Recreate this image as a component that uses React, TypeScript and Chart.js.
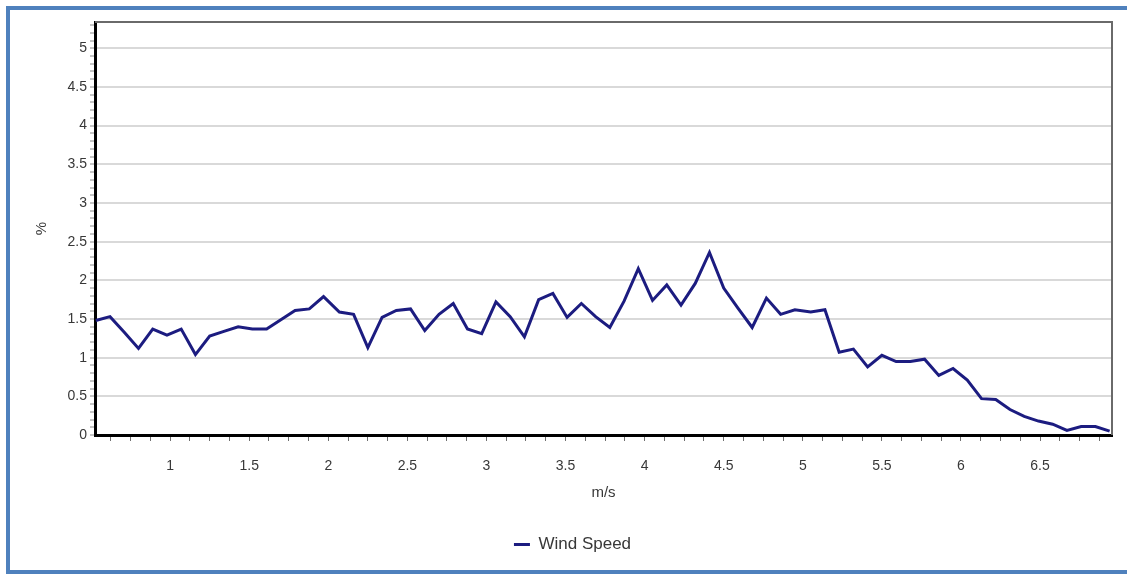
import React, { useEffect, useRef } from 'react';
import { Chart, registerables } from 'chart.js';

Chart.register(...registerables);

// Wind speed bins (m/s)
const WIND_SPEED = [
  0.53, 0.62, 0.71, 0.80, 0.89, 0.98, 1.07, 1.16, 1.25, 1.34,
  1.43, 1.52, 1.61, 1.70, 1.79, 1.88, 1.97, 2.07, 2.16, 2.25,
  2.34, 2.43, 2.52, 2.61, 2.70, 2.79, 2.88, 2.97, 3.06, 3.15,
  3.24, 3.33, 3.42, 3.51, 3.60, 3.69, 3.78, 3.87, 3.96, 4.05,
  4.14, 4.23, 4.32, 4.41, 4.50, 4.59, 4.68, 4.77, 4.86, 4.95,
  5.05, 5.14, 5.23, 5.32, 5.41, 5.50, 5.59, 5.68, 5.77, 5.86,
  5.95, 6.04, 6.13, 6.22, 6.31, 6.40, 6.49, 6.58, 6.67, 6.76,
  6.85, 6.94,
];

// Frequency (%)
const PERCENT = [
  1.48, 1.53, 1.33, 1.12, 1.37, 1.29, 1.37, 1.04, 1.28, 1.34,
  1.40, 1.37, 1.37, 1.49, 1.61, 1.63, 1.79, 1.59, 1.56, 1.13,
  1.52, 1.61, 1.63, 1.35, 1.56, 1.70, 1.37, 1.31, 1.72, 1.53,
  1.27, 1.75, 1.83, 1.52, 1.70, 1.53, 1.39, 1.73, 2.15, 1.74,
  1.94, 1.68, 1.96, 2.36, 1.90, 1.64, 1.39, 1.77, 1.56, 1.62,
  1.59, 1.62, 1.07, 1.11, 0.88, 1.03, 0.95, 0.95, 0.98, 0.77,
  0.86, 0.71, 0.47, 0.46, 0.33, 0.24, 0.18, 0.14, 0.06, 0.11,
  0.11, 0.05,
];

const X_MAJOR_TICKS = [1, 1.5, 2, 2.5, 3, 3.5, 4, 4.5, 5, 5.5, 6, 6.5];
const X_TICK_LABELS = ['1', '1.5', '2', '2.5', '3', '3.5', '4', '4.5', '5', '5.5', '6', '6.5'];
const Y_MAJOR_TICKS = [0, 0.5, 1, 1.5, 2, 2.5, 3, 3.5, 4, 4.5, 5];
const Y_TICK_LABELS = ['0', '0.5', '1', '1.5', '2', '2.5', '3', '3.5', '4', '4.5', '5'];

const SERIES_LABEL = 'Wind Speed';
const X_TITLE = 'm/s';
const Y_TITLE = '%';

const FONT = '"Liberation Sans", Arial, sans-serif';
const TEXT_COLOR = '#383838';

const majorIndex = (v: number, list: number[]) =>
  list.findIndex((t) => Math.abs(t - v) < 1e-6);

export default function App() {
  const ref = useRef<HTMLCanvasElement>(null);

  useEffect(() => {
    const frame = {
      id: 'frame',
      beforeDatasetsDraw(chart: any) {
        const { ctx, chartArea } = chart;
        const { left, top, right, bottom } = chartArea;
        ctx.save();
        ctx.strokeStyle = '#6a6a6a';
        ctx.lineWidth = 2;
        ctx.beginPath();
        ctx.moveTo(left, top);
        ctx.lineTo(right, top);
        ctx.lineTo(right, bottom);
        ctx.stroke();
        ctx.restore();
      },
    };

    const chart = new Chart(ref.current as HTMLCanvasElement, {
      type: 'line',
      data: {
        datasets: [
          {
            label: SERIES_LABEL,
            data: WIND_SPEED.map((x, i) => ({ x, y: PERCENT[i] })),
            borderColor: '#1c1c80',
            backgroundColor: '#1c1c80',
            borderWidth: 3,
            pointRadius: 0,
            tension: 0,
            fill: false,
          },
        ],
      },
      options: {
        animation: false,
        responsive: false,
        layout: { padding: { left: 33, right: 15, top: 22, bottom: 11 } },
        plugins: {
          legend: {
            position: 'bottom',
            labels: {
              usePointStyle: true,
              pointStyle: 'line',
              pointStyleWidth: 16,
              padding: 10,
              color: TEXT_COLOR,
              font: { family: FONT, size: 17 },
            },
          },
          tooltip: { enabled: false },
        },
        scales: {
          x: {
            type: 'linear',
            min: 0.525,
            max: 6.955,
            afterBuildTicks: (scale: any) => {
              const ticks = [];
              for (let v = 0.625; v < 6.95; v += 0.125) ticks.push({ value: Math.round(v * 1000) / 1000 });
              scale.ticks = ticks;
            },
            afterFit: (scale: any) => {
              scale.height = 91;
            },
            ticks: {
              autoSkip: false,
              maxRotation: 0,
              minRotation: 0,
              padding: 17,
              color: TEXT_COLOR,
              font: { family: FONT, size: 14 },
              callback: (v: any) => {
                const i = majorIndex(Number(v), X_MAJOR_TICKS);
                return i >= 0 ? X_TICK_LABELS[i] : '';
              },
            },
            grid: {
              drawOnChartArea: false,
              drawTicks: true,
              tickLength: 6,
              tickColor: '#707070',
              tickWidth: 1,
            },
            border: { color: '#000', width: 3 },
            title: {
              display: true,
              text: X_TITLE,
              color: TEXT_COLOR,
              font: { family: FONT, size: 15 },
              padding: { top: 0, bottom: 24 },
            },
          },
          y: {
            type: 'linear',
            min: 0,
            max: 5.34,
            afterBuildTicks: (scale: any) => {
              const ticks = [];
              for (let k = 0; k <= 53; k++) ticks.push({ value: k / 10 });
              scale.ticks = ticks;
            },
            afterFit: (scale: any) => {
              scale.width = 62;
            },
            ticks: {
              autoSkip: false,
              padding: 3,
              color: TEXT_COLOR,
              font: { family: FONT, size: 14 },
              callback: (v: any) => {
                const i = majorIndex(Number(v), Y_MAJOR_TICKS);
                return i >= 0 ? Y_TICK_LABELS[i] : '';
              },
            },
            grid: {
              drawTicks: true,
              tickLength: 5,
              tickColor: '#8a8a8a',
              tickWidth: 1,
              lineWidth: 2,
              color: (ctx: any) => {
                const v = ctx.tick ? ctx.tick.value : -1;
                return v > 0 && majorIndex(v, Y_MAJOR_TICKS) >= 0 ? '#d9d9d9' : 'rgba(0,0,0,0)';
              },
            },
            border: { color: '#000', width: 3 },
            title: {
              display: true,
              text: Y_TITLE,
              color: TEXT_COLOR,
              font: { family: FONT, size: 15 },
              padding: { top: 0, bottom: 0 },
            },
          },
        },
      },
      plugins: [frame],
    } as any);

    return () => chart.destroy();
  }, []);

  return (
    <div style={{ position: 'fixed', left: 0, top: 0, width: 1127, height: 574, background: '#fff', overflow: 'hidden' }}>
      <canvas ref={ref} width={1127} height={574} style={{ position: 'absolute', left: 0, top: 0, width: 1127, height: 574 }} />
      <div
        style={{
          position: 'absolute',
          left: 6,
          top: 6,
          width: 1121,
          height: 568,
          boxSizing: 'border-box',
          borderTop: '4px solid #4f81bd',
          borderLeft: '4px solid #4f81bd',
          borderBottom: '4px solid #4f81bd',
          borderRight: 'none',
          pointerEvents: 'none',
        }}
      />
    </div>
  );
}
